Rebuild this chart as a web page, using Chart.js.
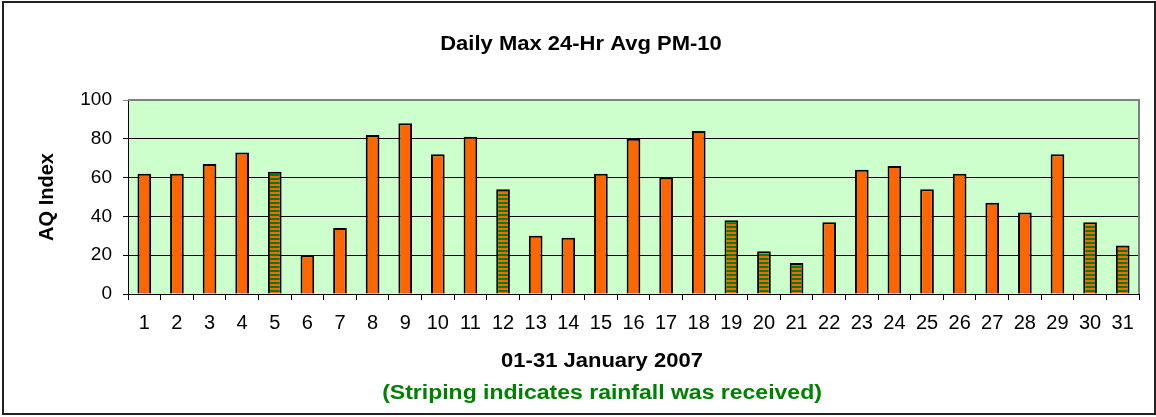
<!DOCTYPE html>
<html>
<head>
<meta charset="utf-8">
<script src="https://cdn.jsdelivr.net/npm/chart.js@4"></script>
<style>
  html, body { margin: 0; padding: 0; background: #ffffff; }
  #wrap { width: 1156px; height: 417px; }
</style>
</head>
<body>
<div id="wrap"><canvas id="pmChart" width="1156" height="417"></canvas></div>
<script>
// data
const days = ['1','2','3','4','5','6','7','8','9','10','11','12','13','14','15','16',
              '17','18','19','20','21','22','23','24','25','26','27','28','29','30','31'];
const pm10 = [62, 62, 67, 73, 63, 20, 34, 82, 88, 72, 81, 54, 30, 29, 62, 80,
              60, 84, 38, 22, 16, 37, 64, 66, 54, 62, 47, 42, 72, 37, 25];
const rainDays = ['5', '12', '19', '20', '21', '30', '31'];
const yTicks = [0, 20, 40, 60, 80, 100];

const ORANGE = '#FF6600';
const GREEN = '#008000';

// horizontal orange/green stripes for rain days
function makeStripes() {
  const c = document.createElement('canvas');
  c.width = 4;
  c.height = 4;
  const g = c.getContext('2d');
  g.fillStyle = ORANGE;
  g.fillRect(0, 0, 4, 2);
  g.fillStyle = GREEN;
  g.fillRect(0, 2, 4, 2);
  return g.createPattern(c, 'repeat');
}

const ctx = document.getElementById('pmChart').getContext('2d');
const stripes = makeStripes();
const barColors = days.map(d => rainDays.includes(d) ? stripes : ORANGE);

// text a bit wider than the font, like the original export
function wideText(c, txt, x, y, sx) {
  c.save();
  c.translate(x, y);
  c.scale(sx, 1);
  c.fillText(txt, 0, 0);
  c.restore();
}

// plot background, frame and the free text
const decor = {
  id: 'decor',
  beforeDraw(chart) {
    const a = chart.chartArea;
    const c = chart.ctx;
    c.save();
    c.fillStyle = '#CCFFCC';
    c.fillRect(a.left, a.top, a.right - a.left, a.bottom - a.top);
    c.restore();
  },
  afterDraw(chart) {
    const a = chart.chartArea;
    const c = chart.ctx;
    c.save();
    // plot area border (top / right in grey)
    c.strokeStyle = '#808080';
    c.lineWidth = 2;
    c.beginPath();
    c.moveTo(a.left, a.top);
    c.lineTo(a.right, a.top);
    c.lineTo(a.right, a.bottom);
    c.stroke();

    // outer chart border
    c.strokeStyle = '#222222';
    c.lineWidth = 2;
    c.strokeRect(3, 2, 1152, 412);

    c.fillStyle = '#000000';
    c.textAlign = 'center';
    c.textBaseline = 'middle';
    c.font = 'bold 20px "Liberation Sans", Arial, sans-serif';
    wideText(c, 'Daily Max 24-Hr Avg PM-10', 581, 44, 1.1);
    wideText(c, '01-31 January 2007', 602, 361, 1.1);

    c.fillStyle = GREEN;
    wideText(c, '(Striping indicates rainfall was received)', 602, 393, 1.15);

    c.fillStyle = '#000000';
    c.translate(47, 197);
    c.rotate(-Math.PI / 2);
    c.fillText('AQ Index', 0, 0);
    c.restore();
  }
};

new Chart(ctx, {
  type: 'bar',
  data: {
    labels: days,
    datasets: [{
      label: 'PM-10',
      data: pm10,
      backgroundColor: barColors,
      borderColor: '#000000',
      borderWidth: 2,
      barPercentage: 0.42,
      categoryPercentage: 1.0
    }]
  },
  options: {
    responsive: false,
    animation: false,
    layout: {
      padding: { left: 0, top: 100, right: 17, bottom: 0 }
    },
    plugins: {
      legend: { display: false },
      tooltip: { enabled: false },
      title: { display: false }
    },
    scales: {
      x: {
        grid: {
          offset: true,
          drawOnChartArea: false,
          drawTicks: true,
          tickLength: 6,
          color: '#000000'
        },
        border: { color: '#000000', width: 1 },
        ticks: {
          color: '#000000',
          padding: 11,
          maxRotation: 0,
          autoSkip: false,
          font: { family: '"Liberation Sans", Arial, sans-serif', size: 20 }
        },
        afterFit(scale) { scale.height = 123; }
      },
      y: {
        min: 0,
        max: 100,
        afterBuildTicks(scale) {
          scale.ticks = yTicks.map(v => ({ value: v }));
        },
        grid: {
          color: (c) => c.tick && c.tick.value === 100 ? '#808080' : '#000000',
          lineWidth: 1,
          drawTicks: true,
          tickLength: 5
        },
        border: { color: '#000000', width: 1 },
        ticks: {
          color: '#000000',
          padding: 11,
          font: { family: '"Liberation Sans", Arial, sans-serif', size: 19 }
        },
        afterFit(scale) { scale.width = 128; }
      }
    }
  },
  plugins: [decor]
});
</script>
</body>
</html>
